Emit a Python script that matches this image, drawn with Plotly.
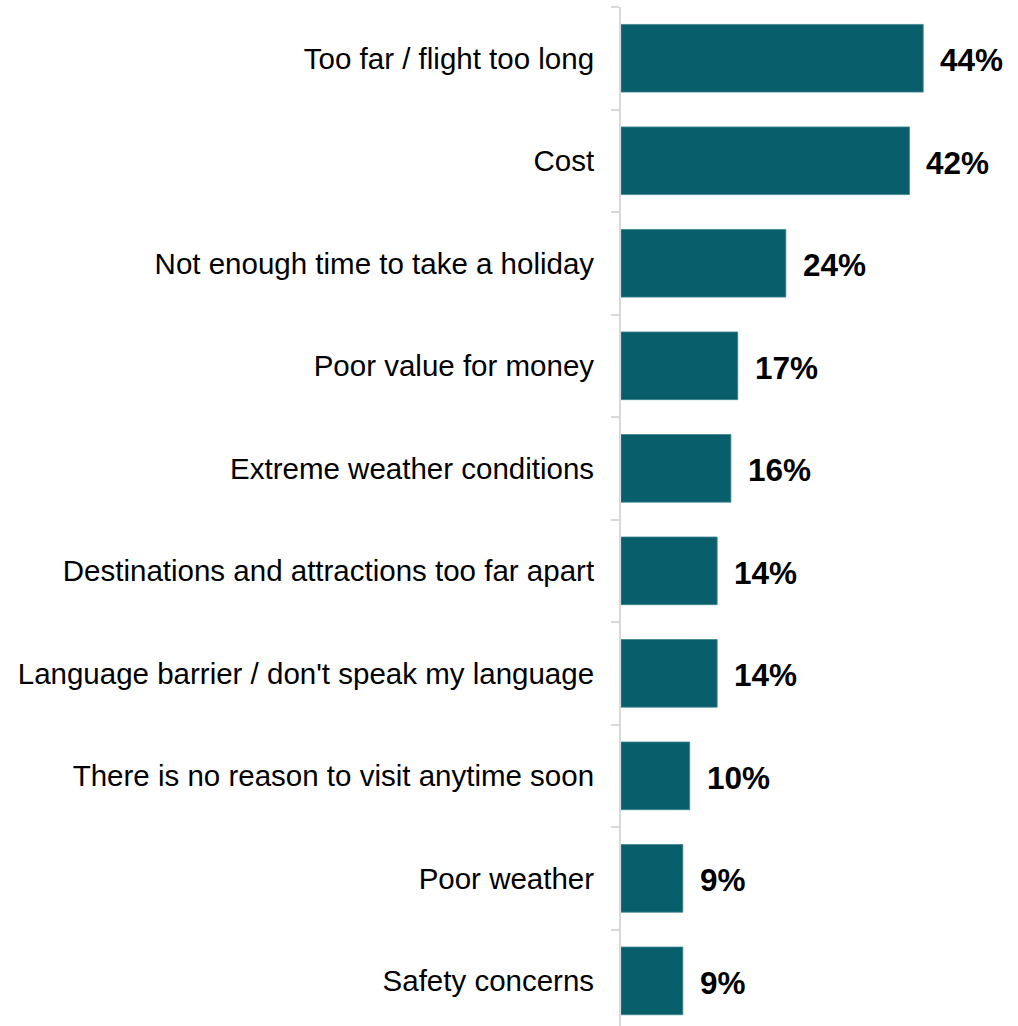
import plotly.graph_objects as go

# Reasons for not visiting, share of respondents (%)
reasons = [
    "Too far / flight too long",
    "Cost",
    "Not enough time to take a holiday",
    "Poor value for money",
    "Extreme weather conditions",
    "Destinations and attractions too far apart",
    "Language barrier / don't speak my language",
    "There is no reason to visit anytime soon",
    "Poor weather",
    "Safety concerns",
]
shares = [44, 42, 24, 17, 16, 14, 14, 10, 9, 9]
value_labels = [f"{v}%" for v in shares]

BAR_COLOR = "#095e6b"
AXIS_GREY = "#d9d9d9"
FONT = "Liberation Sans, Arial, sans-serif"

fig = go.Figure(
    go.Bar(
        x=shares,
        y=reasons,
        orientation="h",
        width=0.66,
        marker=dict(color=BAR_COLOR, line=dict(color="#3d8791", width=0.8)),
        hoverinfo="skip",
    )
)

# Bold value labels just past the end of each bar
for reason, v, lab in zip(reasons, shares, value_labels):
    fig.add_annotation(
        x=v, y=reason, text=f"<b>{lab}</b>", showarrow=False,
        xanchor="left", yanchor="middle", xshift=15, yshift=-2,
        font=dict(family=FONT, size=31.5, color="#000000"),
    )

fig.update_layout(
    width=1018,
    height=1026,
    margin=dict(l=621, r=0, t=7, b=0),
    paper_bgcolor="white",
    plot_bgcolor="white",
    showlegend=False,
    font=dict(family=FONT, size=29.5, color="#000000"),
)

fig.update_xaxes(
    range=[0, 57.8], visible=False, showgrid=False, zeroline=False,
)

fig.update_yaxes(
    type="category",
    range=[9.44, -0.5],
    showline=True, linecolor=AXIS_GREY, linewidth=2,
    ticks="outside", tickson="boundaries", ticklen=8, tickcolor=AXIS_GREY, tickwidth=2,
    ticklabelstandoff=19,
    showgrid=False, zeroline=False,
    tickfont=dict(family=FONT, size=29.5, color="#000000"),
)

fig.write_html("out.html")
